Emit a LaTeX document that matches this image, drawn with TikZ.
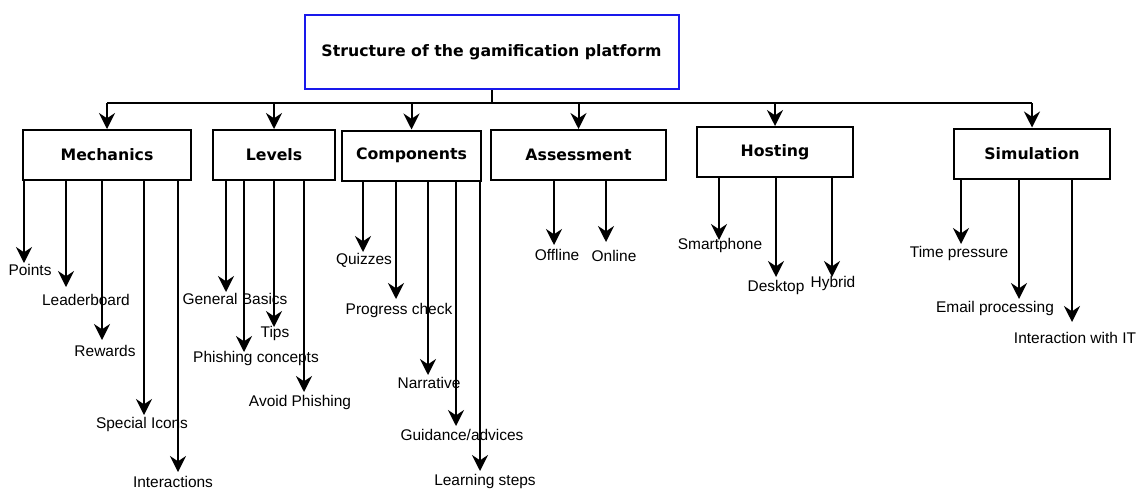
\documentclass[tikz,border=0pt]{standalone}
\usepackage{fontspec}
\setmainfont{Liberation Sans}
\newfontfamily\boxfont{DejaVu Sans}
\usetikzlibrary{arrows.meta}
\definecolor{titleblue}{RGB}{25,25,235}
\tikzset{
    box/.style={draw, line width=1.5pt, minimum height=37.5pt, inner sep=0pt, font=\boxfont\bfseries\fontsize{11.8}{14}\selectfont},
    leaf/.style={inner sep=0pt, font=\fontsize{11.6}{14}\selectfont},
    arr/.style={line width=1.5pt, -{Stealth[length=12pt,width=12pt,inset=4pt]}},
    wire/.style={line width=1.5pt}
}
\newcommand{\leaves}[2]{
    \foreach \ax/\ty/\lx/\ly/\txt [count=\k] in {#2}{
    \coordinate (#1t\k) at (\ax,\ty);
    \node[leaf] (#1l\k) at (\lx,\ly) {\txt};
    \draw[arr] (#1.south -| #1t\k) -- (#1t\k);
    }
}

\begin{document}
\begin{tikzpicture}[x=0.75pt,y=-0.75pt]
    \useasboundingbox (0,0) rectangle (1138,490);
    \node[box, draw=titleblue, minimum width=280.5pt, minimum height=55.5pt] (title) at (491.5,52) {Structure of the gamification platform};
    \node[box, minimum width=126pt] (mech) at (107,155) {Mechanics};
    \node[box, minimum width=91.5pt] (lev) at (274,155) {Levels};
    \node[box, minimum width=104.25pt] (comp) at (411.5,155.5) {Components};
    \node[box, minimum width=131.25pt] (assess) at (578.5,155) {Assessment};
    \node[box, minimum width=117pt] (host) at (775,152) {Hosting};
    \node[box, minimum width=117pt] (sim) at (1032,153.5) {Simulation};
    \coordinate (bus) at (0,103);
    \draw[wire] (title.south) -- (title.south |- bus);
    \draw[wire] (mech.north |- bus) -- (sim.north |- bus);
    \foreach \b in {mech,lev,comp,assess,host,sim}{
    \draw[arr] (\b.north |- bus) -- (\b.north);
    }
    \leaves{mech}{24/263/30/270/Points, 66/287/86/300/Leaderboard, 102/340/105/351/Rewards,
        144/415/142/424/Special Icons, 178/472/173/482/Interactions}
    \leaves{lev}{226/292/235/299/General Basics, 244/352/256/358/Phishing concepts,
        274/327/275/333/Tips, 304/392/300/402/Avoid Phishing}
    \leaves{comp}{363/252/364/260/Quizzes, 396/299/399/310/Progress check, 428/375/429/383/Narrative,
        456/426/462/435/{Guidance/advices}, 480/471/485/481/Learning steps}
    \leaves{assess}{554/245/557/255/Offline, 606/242/614/256/Online}
    \leaves{host}{719/240/720/245/Smartphone, 776/277/776/287/Desktop, 832/277/833/283/Hybrid}
    \leaves{sim}{961/244/959/253/Time pressure, 1019/299/995/308/Email processing,
        1072/322/1075/338/Interaction with IT}
\end{tikzpicture}
\end{document}
